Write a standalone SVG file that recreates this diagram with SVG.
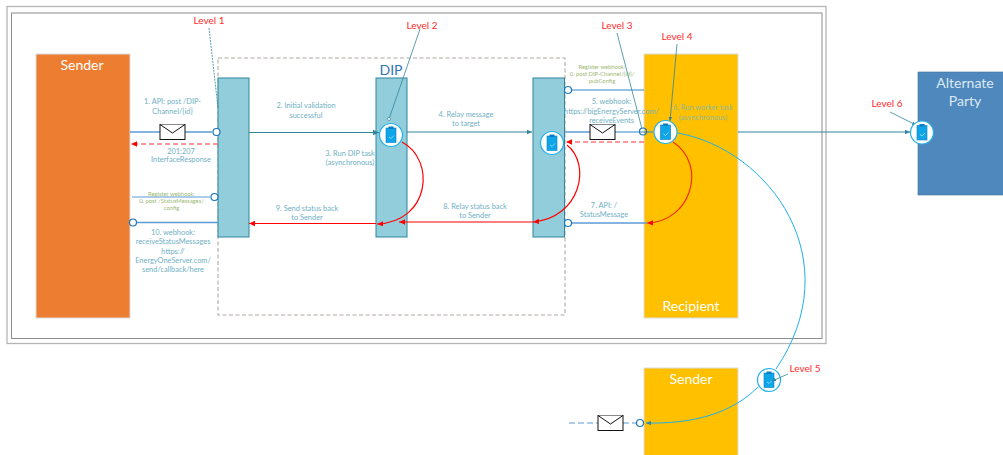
<svg xmlns="http://www.w3.org/2000/svg" width="1003" height="455" viewBox="0 0 1003 455">
<style>
text{font-family:Lato,"Noto Sans","Liberation Sans",sans-serif;text-anchor:middle}
.lab{font-size:7.4px;fill:#6fb0c4}
.grn{font-size:5.8px;fill:#9db873}
.lvl{font-size:10px;fill:#ff2a2a}
.ttl{font-size:14px;fill:#fff}
.bar{fill:#92cddc;stroke:#31859c;stroke-width:1}
.blue{fill:none;stroke:#2e86c8;stroke-width:1.2}
.lite{fill:none;stroke:#5b9bd5;stroke-width:1.5}
.teal{fill:none;stroke:#31859c;stroke-width:1}
.red{fill:none;stroke:#f00;stroke-width:1.2}
.rd{fill:none;stroke:#f33;stroke-width:1.2;stroke-dasharray:5 3}
.lead{fill:none;stroke:#31859c;stroke-width:.8}
.cy{fill:none;stroke:#1fb0e8;stroke-width:1}
.o{fill:#fff;stroke:#1b75bc;stroke-width:1.2}
.env{fill:#fff;stroke:#111;stroke-width:1}
</style>
<defs>
<marker id="ar" markerWidth="6" markerHeight="6" refX="5" refY="3" orient="auto"><path d="M0 .8L5 3L0 5.2z" fill="#f00"/></marker>
<marker id="at" markerWidth="6" markerHeight="6" refX="5" refY="3" orient="auto"><path d="M0 .8L5 3L0 5.2z" fill="#31859c"/></marker>
<g id="env"><rect class="env" x="-12.5" y="-7.5" width="25" height="15"/><path class="env" d="M-12.5-7.5L0 1L12.5-7.5" fill="none"/></g>
<g id="ico"><circle r="11.500" fill="#fff" stroke="#1fb0e8" stroke-width="1.200"/><rect x="-5" y="-7" width="10" height="14.500" fill="#0fa5e9" stroke="#0b7fc0" stroke-width=".6"/><rect x="-2.500" y="-8.500" width="5" height="2.500" fill="#0b7fc0"/><path d="M-2 2L0 3.500L3 .5" fill="none" stroke="#bfe8fb" stroke-width=".7"/></g>
</defs>
<rect x="7" y="6.500" width="819" height="337" fill="#fff" stroke="#b5b5b5" stroke-width="1.300"/>
<rect x="11.500" y="13" width="810.500" height="325.500" fill="#fff" stroke="#8c8c8c" stroke-width="1"/>
<g id="dip"><rect x="218" y="58" width="347" height="257" fill="none" stroke="#c9c5c2" stroke-width="1.600" stroke-dasharray="4 2.500"/><text x="391" y="75" font-size="14" style="fill:#2e75b6">DIP</text></g>
<g id="sender"><rect x="36" y="54" width="94" height="264" fill="#ed7d31" stroke="#ddd" stroke-width="1"/><text class="ttl" x="82" y="70">Sender</text></g>
<g id="recipient"><rect x="644" y="54" width="94" height="264" fill="#ffc000" stroke="#ddd" stroke-width="1"/><text class="ttl" x="691" y="311">Recipient</text></g>
<g id="sender2"><rect x="644" y="368" width="94" height="90" fill="#ffc000" stroke="#ddd" stroke-width="1"/><text class="ttl" x="691" y="384">Sender</text></g>
<g id="alternate"><rect x="918" y="72" width="90" height="123" fill="#4f88bc" stroke="#41719c" stroke-width=".6"/><text class="ttl" x="965" y="88" style="fill:#dce9f4">Alternate</text><text class="ttl" x="965" y="106" style="fill:#dce9f4">Party</text></g>
<g id="bar1"><rect class="bar" x="218" y="78" width="31" height="159"/></g>
<g id="bar2"><rect class="bar" x="376" y="78" width="31" height="159"/></g>
<g id="bar3"><rect class="bar" x="533" y="78" width="31.500" height="159"/></g>
<g id="connectors">
<path class="lite" d="M130 132H212"/>
<path class="teal" d="M249 132.500H379" marker-end="url(#at)" style="stroke-width:1.200"/>
<path class="teal" d="M407 132H532" marker-end="url(#at)"/>
<path class="blue" d="M572 90H644"/>
<path class="lite" d="M565 132H590"/>
<path class="blue" d="M615 132H653"/>
<path class="teal" d="M738 132H910" marker-end="url(#at)"/>
<path class="rd" d="M644 142H566" marker-end="url(#ar)"/>
<path class="rd" d="M218 144H131" marker-end="url(#ar)"/>
<path class="lite" d="M132 197H210" style="stroke-width:1.200"/>
<path class="lite" d="M137 222.500H218"/>
<path class="lite" d="M572 223H647"/>
<path class="red" d="M533 222H399" marker-end="url(#ar)"/>
<path class="red" d="M376 223.500H249" marker-end="url(#ar)"/>
<path class="red" d="M402 142C436 160 430 222 377 224" marker-end="url(#ar)"/>
<path class="red" d="M567 145C592 165 580 218 533 222" marker-end="url(#ar)"/>
<path class="red" d="M673 142C708 165 691 222 647 223" style="stroke:#f33000" marker-end="url(#ar)"/>
<path class="cy" d="M678 133C770 150 850 260 776 369"/>
<path class="cy" d="M758 387C730 415 690 424 646 423" marker-end="url(#at)"/>
<path class="lite" d="M569 423H598" stroke-dasharray="6 3" style="stroke-width:1.200"/>
<path class="lite" d="M623 423H636" stroke-dasharray="6 3" style="stroke-width:1.200"/>
<path class="lead" d="M209 28L218 108" stroke-dasharray="2 1"/>
<path class="lead" d="M420 29L389 119"/>
<path class="lead" d="M617 33L642 129"/>
<path class="lead" d="M677 44L670 121" marker-end="url(#at)"/>
<path class="lead" d="M890 112L916 125" marker-end="url(#at)"/>
<circle cx="389" cy="119" r="1.500" fill="#fff" stroke="#31859c" stroke-width=".7"/>
</g>
<g id="endpoints">
<circle class="o" cx="216.500" cy="132" r="3.500"/>
<circle class="o" cx="214.500" cy="197" r="3.500"/>
<circle class="o" cx="133" cy="222.500" r="3.500"/>
<circle class="o" cx="568" cy="90" r="3.500"/>
<circle class="o" cx="568" cy="223" r="3.500"/>
<circle class="o" cx="643" cy="131.500" r="3.500" style="fill:none"/>
<circle class="o" cx="640" cy="423" r="3.500"/>
</g>
<use href="#env" x="172.500" y="132"/>
<use href="#env" x="602.500" y="132"/>
<use href="#env" x="610.500" y="423"/>
<g id="task1"><use href="#ico" x="391" y="135"/></g>
<g id="task2"><use href="#ico" x="552" y="143"/></g>
<g id="task3"><use href="#ico" x="665.500" y="132"/></g>
<g id="task4"><use href="#ico" x="922" y="132.500"/></g>
<g id="task5"><use href="#ico" x="769" y="380"/></g>
<path class="lead" d="M788 374L772 381" marker-end="url(#at)"/>
<g id="labels">
<text class="lvl" x="209" y="24">Level 1</text>
<text class="lvl" x="422" y="29">Level 2</text>
<text class="lvl" x="617" y="29">Level 3</text>
<text class="lvl" x="677" y="40">Level 4</text>
<text class="lvl" x="887" y="107">Level 6</text>
<text class="lvl" x="805" y="372">Level 5</text>
<text class="lab" x="172.500" y="104">1. API: post /DIP-</text><text class="lab" x="172.500" y="113.500">Channel/{id}</text>
<text class="lab" x="181" y="153.500">201:207</text><text class="lab" x="181" y="162">InterfaceResponse</text>
<text class="grn" x="171.500" y="196">Register webhook:</text><text class="grn" x="171.500" y="203">0. post /StatusMessages/</text><text class="grn" x="171.500" y="210">config</text>
<text class="lab" x="173" y="235">10. webhook:</text><text class="lab" x="173" y="244">receiveStatusMessages</text><text class="lab" x="173" y="253.500">https://</text><text class="lab" x="173" y="262.500">EnergyOneServer.com/</text><text class="lab" x="173" y="272">send/callback/here</text>
<text class="lab" x="306" y="108">2. Initial validation</text><text class="lab" x="306" y="118">successful</text>
<text class="lab" x="350" y="156">3. Run DIP task</text><text class="lab" x="350" y="165">(asynchronous)</text>
<text class="lab" x="307" y="211">9. Send status back</text><text class="lab" x="307" y="220">to Sender</text>
<text class="lab" x="466" y="117">4. Relay message</text><text class="lab" x="466" y="126">to target</text>
<text class="lab" x="475" y="209">8. Relay status back</text><text class="lab" x="475" y="218">to Sender</text>
<text class="grn" x="602" y="69">Register webhook:</text><text class="grn" x="602" y="76">0. post DIP-Channel/{id}/</text><text class="grn" x="602" y="83">pubConfig</text>
<text class="lab" x="611.500" y="104">5. webhook:</text><text class="lab" x="611.500" y="114">https://bigEnergyServer.com/</text><text class="lab" x="611.500" y="123">receiveEvents</text>
<text class="lab" x="604" y="208">7. API: /</text><text class="lab" x="604" y="217">StatusMessage</text>
<text class="lab" x="703" y="110" style="fill:#8fb89a">6. Run worker task</text><text class="lab" x="703" y="119.500" style="fill:#8fb89a">(asynchronous)</text>
</g>
</svg>
